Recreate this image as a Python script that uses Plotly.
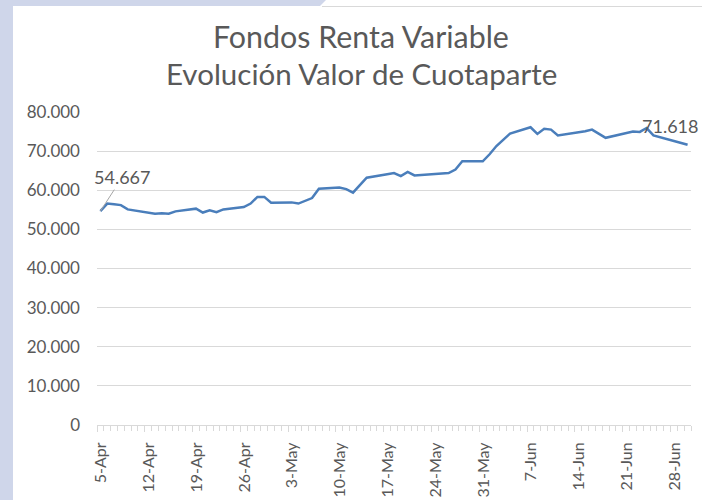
import plotly.graph_objects as go
from datetime import datetime, timedelta

# ---- data ----
dates = [
    "2021-04-05", "2021-04-06", "2021-04-07", "2021-04-08", "2021-04-09",
    "2021-04-12", "2021-04-13", "2021-04-14", "2021-04-15", "2021-04-16",
    "2021-04-19", "2021-04-20", "2021-04-21", "2021-04-22", "2021-04-23",
    "2021-04-26", "2021-04-27", "2021-04-28", "2021-04-29", "2021-04-30",
    "2021-05-03", "2021-05-04", "2021-05-05", "2021-05-06", "2021-05-07",
    "2021-05-10", "2021-05-11", "2021-05-12", "2021-05-13", "2021-05-14",
    "2021-05-17", "2021-05-18", "2021-05-19", "2021-05-20", "2021-05-21",
    "2021-05-26", "2021-05-27", "2021-05-28",
    "2021-05-31", "2021-06-01", "2021-06-02", "2021-06-03", "2021-06-04",
    "2021-06-07", "2021-06-08", "2021-06-09", "2021-06-10", "2021-06-11",
    "2021-06-14", "2021-06-15", "2021-06-16", "2021-06-17", "2021-06-18",
    "2021-06-22", "2021-06-23", "2021-06-24", "2021-06-25",
    "2021-06-28", "2021-06-29", "2021-06-30",
]
values = [
    54667, 56600, 56400, 56200, 55100,
    54300, 54000, 54100, 54000, 54600,
    55300, 54300, 54900, 54400, 55100,
    55700, 56600, 58300, 58300, 56800,
    56900, 56600, 57300, 58000, 60400,
    60700, 60300, 59400, 61300, 63200,
    64100, 64400, 63600, 64700, 63800,
    64400, 65300, 67400,
    67400, 69200, 71300, 72800, 74500,
    76100, 74400, 75700, 75500, 74000,
    74700, 75100, 75500, 74500, 73400,
    75000, 74900, 75900, 74000,
    72600, 72100, 71618,
]
week_labels = ["5-Apr", "12-Apr", "19-Apr", "26-Apr", "3-May", "10-May", "17-May",
               "24-May", "31-May", "7-Jun", "14-Jun", "21-Jun", "28-Jun"]
y_ticks = [0, 10000, 20000, 30000, 40000, 50000, 60000, 70000, 80000]
title_lines = ["Fondos Renta Variable", "Evolución Valor de Cuotaparte"]

def fmt(v):
    return f"{v:,}".replace(",", ".")

start = datetime(2021, 4, 5)
week_ticks = [(start + timedelta(days=7 * i) - timedelta(hours=12)).strftime("%Y-%m-%d %H:%M")
              for i in range(len(week_labels))]

W, H = 702, 500
L, R, T, B = 97, 691, 112, 425

def px(xp):
    return (xp - L) / (R - L)

def py(yp):
    return (B - yp) / (B - T)

FONT = "Lato"
GREY = "#595959"
LAV = "#CFD6EA"

fig = go.Figure()
fig.add_trace(go.Scatter(x=dates, y=values, mode="lines",
                         line=dict(color="#4A7EBB", width=2.5),
                         hoverinfo="skip"))

fig.add_annotation(x=dates[0], y=values[0], text=fmt(values[0]),
                   showarrow=True, arrowhead=0, arrowwidth=1, arrowcolor="#A6A6A6",
                   ax=22, ay=-34, font=dict(family=FONT, size=18, color=GREY))
fig.add_annotation(x=dates[-1], y=values[-1], text=fmt(values[-1]),
                   showarrow=False, xshift=-18, yshift=19,
                   font=dict(family=FONT, size=18, color=GREY))

# title lines
for line_text, yc, sz in zip(title_lines, [36, 73], [30.4, 29.5]):
    fig.add_annotation(text=line_text, xref="paper", yref="paper",
                       x=px(361), y=py(yc), xanchor="center", yanchor="middle",
                       showarrow=False, font=dict(family=FONT, size=sz, color=GREY))

shapes = [
    dict(type="rect", xref="paper", yref="paper", x0=px(0), x1=px(13), y0=py(500), y1=py(0),
         fillcolor=LAV, line=dict(width=0), layer="below"),
    dict(type="path", xref="paper", yref="paper",
         path=f"M {px(0)},{py(0)} L {px(326)},{py(0)} L {px(320)},{py(6)} L {px(0)},{py(6)} Z",
         fillcolor=LAV, line=dict(width=0), layer="below"),
    dict(type="line", xref="paper", yref="paper", x0=px(322), x1=px(702), y0=py(6.5), y1=py(6.5),
         line=dict(color="#D9D9D9", width=1)),
]

fig.update_layout(
    width=W, height=H,
    margin=dict(l=L, r=W - R, t=T, b=H - B, autoexpand=False),
    paper_bgcolor="white", plot_bgcolor="white",
    showlegend=False,
    separators=",.",
    shapes=shapes,
    xaxis=dict(type="date", range=["2021-04-04 12:00", "2021-06-30 12:00"],
               automargin=False,
               tickvals=week_ticks, ticktext=week_labels, tickangle=-90,
               ticklabelshift=4, ticklabelstandoff=4,
               ticks="outside", ticklen=6, tickcolor="#D9D9D9", tickwidth=1,
               minor=dict(ticks="outside", ticklen=5, tickcolor="#D9D9D9",
                          dtick=86400000, tick0="2021-04-04 12:00", showgrid=False),
               showline=True, linecolor="#D9D9D9", linewidth=1,
               showgrid=False, zeroline=False,
               tickfont=dict(family=FONT, size=16, color=GREY)),
    yaxis=dict(range=[0, 80000], tickvals=y_ticks, ticktext=[fmt(v) for v in y_ticks],
               automargin=False,
               showgrid=True, gridcolor="#D9D9D9", gridwidth=1,
               zeroline=False, showline=False, ticks="",
               ticklabelstandoff=16,
               tickfont=dict(family=FONT, size=17, color=GREY)),
)

fig.write_html("out.html", config={"displayModeBar": False},
               post_script="document.body.style.margin='0';")
